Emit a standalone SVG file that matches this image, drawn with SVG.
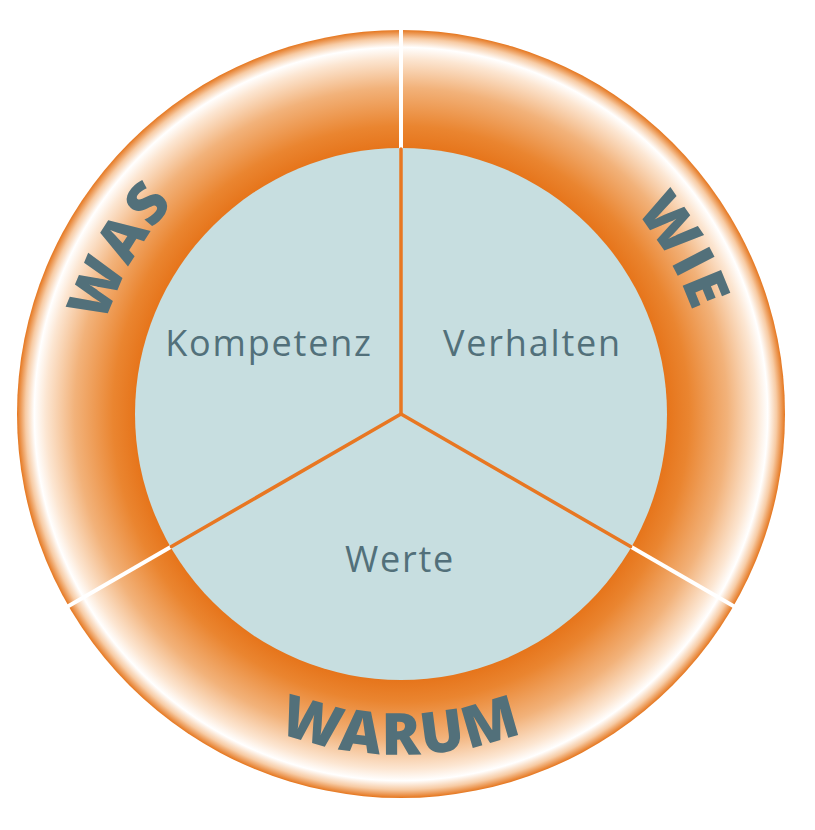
<svg xmlns="http://www.w3.org/2000/svg" width="815" height="830" viewBox="0 0 815 830">
  <defs>
    <radialGradient id="ring" gradientUnits="userSpaceOnUse" cx="401" cy="414" r="384">
      <stop offset="0.69" stop-color="#e6741a"/>
      <stop offset="0.75" stop-color="#ea8530"/>
      <stop offset="0.85" stop-color="#f2b27a"/>
      <stop offset="0.925" stop-color="#fce6d2"/>
      <stop offset="0.955" stop-color="#ffffff"/>
      <stop offset="0.978" stop-color="#f7cba4"/>
      <stop offset="1" stop-color="#e5761e"/>
    </radialGradient>
    <path id="arcWas" d="M 241.3 679.7 A 310 310 0 0 1 551.3 142.9"/>
    <path id="arcWie" d="M 250.7 142.9 A 310 310 0 0 1 560.7 679.7"/>
    <path id="arcWarum" d="M 58.1 420 A 343 343 0 0 0 743.9 420"/>
  </defs>
  <style>
    .big { font-family: "Open Sans", "Liberation Sans", sans-serif; font-weight: 800; font-size: 58px; fill: #52707a; letter-spacing: 2px; }
    .lbl { font-family: "Open Sans", "Liberation Sans", sans-serif; font-size: 36px; fill: #52707a; letter-spacing: 1.8px; }
    .div { stroke: #ffffff; stroke-width: 4; }
    .sep { stroke: #e87722; stroke-width: 3.5; stroke-linecap: round; }
  </style>
  <rect width="815" height="830" fill="#ffffff"/>
  <g id="ring-group">
    <circle cx="401" cy="414" r="384" fill="url(#ring)"/>
  </g>
  <g id="inner-circle">
    <circle cx="401" cy="414" r="266" fill="#c7dee0"/>
  </g>
  <g id="connectors">
    <line class="div" x1="401" y1="148" x2="401" y2="28"/>
    <line class="div" x1="170.6" y1="547" x2="66" y2="607.5"/>
    <line class="div" x1="631.4" y1="547" x2="736" y2="607.5"/>
    <line class="sep" x1="401" y1="414" x2="401" y2="149"/>
    <line class="sep" x1="401" y1="414" x2="171.5" y2="546.5"/>
    <line class="sep" x1="401" y1="414" x2="630.5" y2="546.5"/>
  </g>
  <g id="was">
    <text class="big"><textPath href="#arcWas" startOffset="50%" text-anchor="middle">WAS</textPath></text>
  </g>
  <g id="wie">
    <text class="big"><textPath href="#arcWie" startOffset="50%" text-anchor="middle">WIE</textPath></text>
  </g>
  <g id="warum">
    <text class="big"><textPath href="#arcWarum" startOffset="50%" text-anchor="middle">WARUM</textPath></text>
  </g>
  <g id="kompetenz">
    <text class="lbl" x="269" y="356" text-anchor="middle">Kompetenz</text>
  </g>
  <g id="verhalten">
    <text class="lbl" x="532.5" y="356" text-anchor="middle">Verhalten</text>
  </g>
  <g id="werte">
    <text class="lbl" x="400" y="572" text-anchor="middle">Werte</text>
  </g>
</svg>
